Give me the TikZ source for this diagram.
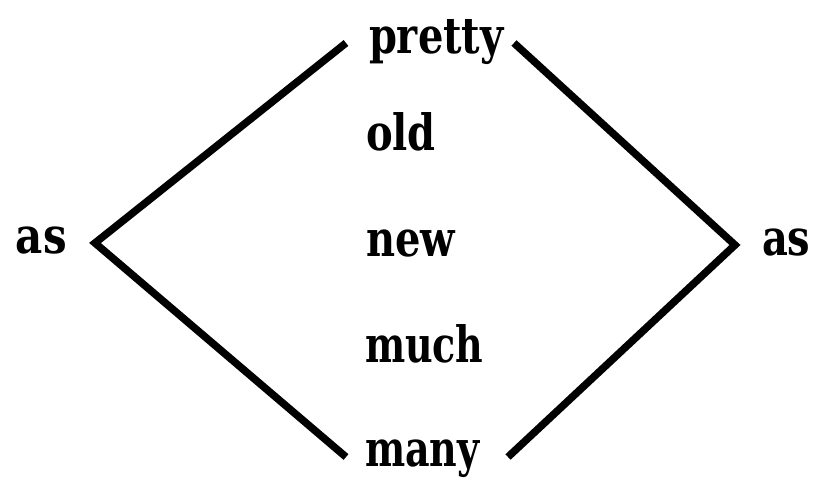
\documentclass[tikz,border=0pt]{standalone}
\usepackage{fontspec}
\usepackage{graphicx}
\newfontfamily\wordfont{DejaVu Serif}[BoldFont={DejaVu Serif Bold}]
\begin{document}
\begin{tikzpicture}[x=1pt,y=-1pt,
  word/.style={anchor=base west,inner sep=0pt,outer sep=0pt,
    font=\wordfont\bfseries\fontsize{40}{40}\selectfont},
  link/.style={line width=7.5pt,line join=miter,line cap=butt}]
\useasboundingbox (0,0) rectangle (813,479);
\node[word] (asl) at (16,253) {\scalebox{1.05}[1.25]{as}};
\node[word] (asr) at (762,255) {\scalebox{1.0}[1.25]{as}};
\node[word] (pretty) at (369,53) {\scalebox{1.0}[1.25]{pretty}};
\node[word] (old) at (366,150) {\scalebox{1.0}[1.25]{old}};
\node[word] (new) at (366,256) {\scalebox{1.0}[1.25]{new}};
\node[word] (much) at (365,362) {\scalebox{0.95}[1.25]{much}};
\node[word] (many) at (365,466) {\scalebox{0.95}[1.25]{many}};
\coordinate (lt) at (346,43);
\coordinate (lv) at (95,243);
\coordinate (lb) at (346,457);
\coordinate (rt) at (514,43);
\coordinate (rv) at (735,245);
\coordinate (rb) at (508,457);
\draw[link] (lt) -- (lv) -- (lb);
\draw[link] (rt) -- (rv) -- (rb);
\end{tikzpicture}
\end{document}
